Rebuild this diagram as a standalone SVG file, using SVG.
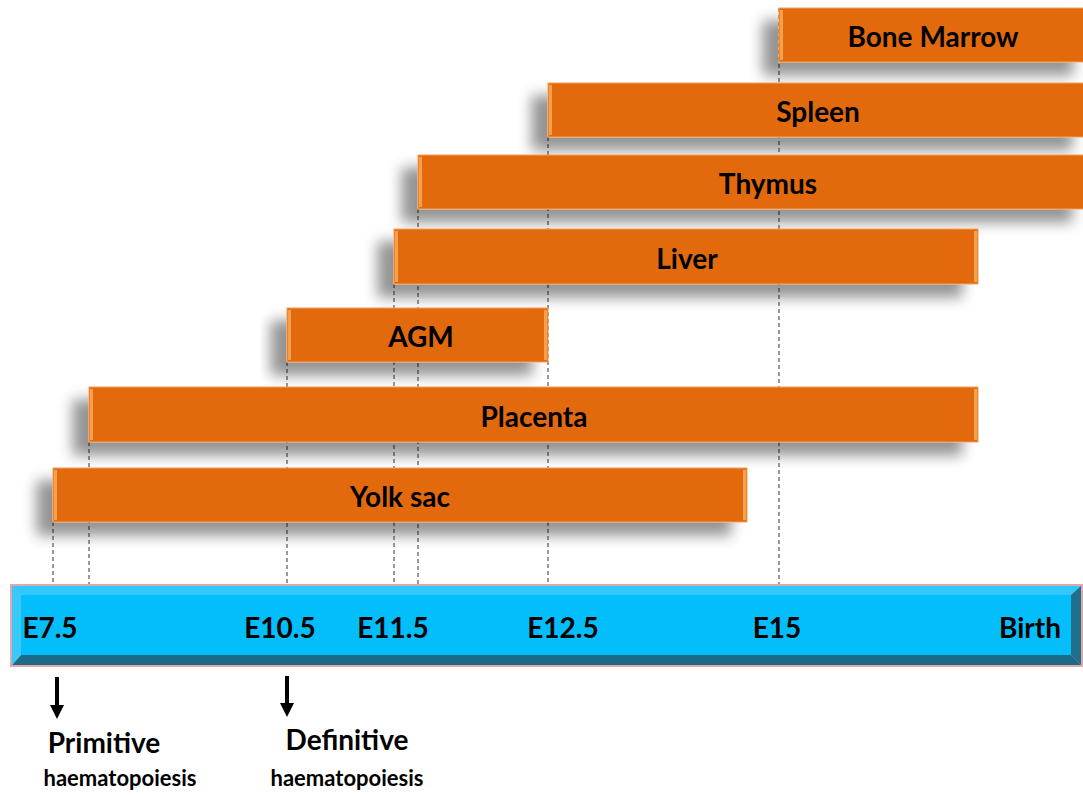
<svg xmlns="http://www.w3.org/2000/svg" width="1083" height="795" viewBox="0 0 1083 795">
<defs>
<filter id="sh" x="-10%" y="-50%" width="120%" height="200%">
<feDropShadow dx="-16" dy="13" stdDeviation="7" flood-color="#000" flood-opacity="0.42"/>
</filter>
<marker id="ah" markerWidth="14" markerHeight="14" refX="0" refY="7" orient="auto" markerUnits="userSpaceOnUse" viewBox="0 0 14 14">
<path d="M0,0 L14,7 L0,14 z" fill="#000"/>
</marker>
</defs>
<style>
.bar{fill:#E26B0A;stroke:#F0A060;stroke-width:1}
.hl{fill:#F7A04C}
.lbl{font-family:Lato,"Open Sans",sans-serif;font-weight:bold;font-size:28px;fill:#000;text-anchor:middle}
.tick{font-family:Lato,"Open Sans",sans-serif;font-weight:bold;font-size:28px;fill:#000;text-anchor:middle}
.note{font-family:Lato,"Open Sans",sans-serif;font-weight:bold;fill:#000;text-anchor:middle}
.dash{stroke:#333;stroke-width:1;stroke-dasharray:4,3;fill:none}
.arr{stroke:#000;stroke-width:4;fill:none}
</style>
<rect width="1083" height="795" fill="#fff"/>

<g id="connectors">
<line class="dash" x1="53" y1="522" x2="53" y2="584"/>
<line class="dash" x1="89" y1="442" x2="89" y2="584"/>
<line class="dash" x1="287" y1="362" x2="287" y2="584"/>
<line class="dash" x1="394" y1="284" x2="394" y2="584"/>
<line class="dash" x1="418" y1="209" x2="418" y2="584"/>
<line class="dash" x1="548" y1="137" x2="548" y2="584"/>
<line class="dash" x1="779" y1="8" x2="779" y2="584"/>
<line class="arr" x1="57" y1="677" x2="57" y2="705" marker-end="url(#ah)"/>
<line class="arr" x1="287" y1="676" x2="287" y2="703" marker-end="url(#ah)"/>
</g>

<g id="bone-marrow">
<rect class="bar" x="779" y="8" width="310" height="54" filter="url(#sh)"/>
<rect class="hl" x="780" y="10" width="3" height="50"/>
<text class="lbl" x="933" y="47">Bone Marrow</text>
</g>
<g id="spleen">
<rect class="bar" x="548" y="83" width="540" height="54" filter="url(#sh)"/>
<rect class="hl" x="549" y="85" width="3" height="50"/>
<text class="lbl" x="818" y="122">Spleen</text>
</g>
<g id="thymus">
<rect class="bar" x="418" y="155" width="670" height="54" filter="url(#sh)"/>
<rect class="hl" x="419" y="157" width="3" height="50"/>
<text class="lbl" x="768" y="194">Thymus</text>
</g>
<g id="liver">
<rect class="bar" x="394" y="229" width="584" height="55" filter="url(#sh)"/>
<rect class="hl" x="395" y="231" width="3" height="51"/>
<rect class="hl" x="974" y="231" width="3" height="51"/>
<text class="lbl" x="687" y="269">Liver</text>
</g>
<g id="agm">
<rect class="bar" x="287" y="308" width="261" height="54" filter="url(#sh)"/>
<rect class="hl" x="288" y="310" width="3" height="50"/>
<rect class="hl" x="544" y="310" width="3" height="50"/>
<text class="lbl" x="421" y="347">AGM</text>
</g>
<g id="placenta">
<rect class="bar" x="89" y="387" width="889" height="55" filter="url(#sh)"/>
<rect class="hl" x="90" y="389" width="3" height="51"/>
<rect class="hl" x="974" y="389" width="3" height="51"/>
<text class="lbl" x="534" y="427">Placenta</text>
</g>
<g id="yolk-sac">
<rect class="bar" x="53" y="468" width="694" height="54" filter="url(#sh)"/>
<rect class="hl" x="54" y="470" width="3" height="50"/>
<rect class="hl" x="743" y="470" width="3" height="50"/>
<text class="lbl" x="400" y="507">Yolk sac</text>
</g>

<g id="timeline">
<rect x="10" y="584" width="1073" height="83" fill="#E0A8A8"/>
<polygon points="12,586 1081,586 1071,595 21,595" fill="#30C8FF"/>
<polygon points="1081,586 1081,665 1071,655 1071,595" fill="#1F6E8C"/>
<polygon points="12,665 1081,665 1071,655 21,655" fill="#1A6A88"/>
<polygon points="12,586 21,595 21,655 12,665" fill="#3AC8F8"/>
<rect x="21" y="595" width="1050" height="60" fill="#04BDFB"/>
<text class="tick" x="50" y="638">E7.5</text>
<text class="tick" x="280" y="638">E10.5</text>
<text class="tick" x="393" y="638">E11.5</text>
<text class="tick" x="563" y="638">E12.5</text>
<text class="tick" x="777" y="638">E15</text>
<text class="tick" x="1030" y="638">Birth</text>
</g>

<g id="primitive">
<text class="note" x="104" y="753" font-size="28">Primitive</text>
<text class="note" x="120" y="786" font-size="22">haematopoiesis</text>
</g>
<g id="definitive">
<text class="note" x="347" y="750" font-size="28">Definitive</text>
<text class="note" x="347" y="786" font-size="22">haematopoiesis</text>
</g>
</svg>
